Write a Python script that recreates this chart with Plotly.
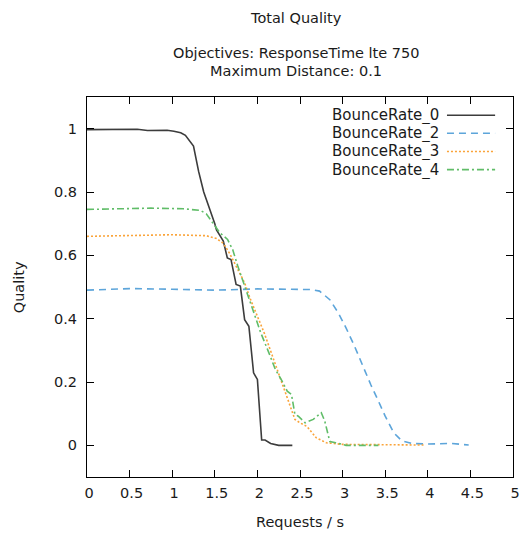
import plotly.graph_objects as go

# Measured quality vs. request rate for each bounce-rate setting
br0_x = [0, 0.3, 0.59, 0.71, 0.94, 1.02, 1.10, 1.155, 1.25, 1.31, 1.37, 1.50, 1.52, 1.60,
         1.647, 1.69, 1.75, 1.80, 1.85, 1.90, 1.955, 2.00, 2.05, 2.09, 2.155, 2.25, 2.41]
br0_y = [0.997, 0.997, 0.998, 0.994, 0.995, 0.992, 0.987, 0.979, 0.945, 0.865, 0.80, 0.70, 0.68, 0.645,
         0.592, 0.587, 0.508, 0.503, 0.397, 0.376, 0.229, 0.208, 0.017, 0.017, 0.006, 0.0, 0.0]

br2_x = [0, 0.5, 1.0, 1.31, 1.5, 2.0, 2.62, 2.73, 2.85, 2.95, 3.04, 3.14, 3.23, 3.33,
         3.42, 3.50, 3.60, 3.695, 3.81, 4.0, 4.27, 4.48]
br2_y = [0.490, 0.495, 0.493, 0.491, 0.490, 0.494, 0.492, 0.487, 0.46, 0.418, 0.371, 0.313, 0.255, 0.192,
         0.14, 0.092, 0.04, 0.014, 0.006, 0.004, 0.006, 0.001]

br3_x = [0, 0.5, 1.0, 1.40, 1.52, 1.60, 1.67, 1.75, 1.85, 1.92, 2.0, 2.08, 2.17, 2.23,
         2.31, 2.385, 2.44, 2.50, 2.58, 2.69, 2.81, 3.0, 3.5, 3.95]
br3_y = [0.66, 0.663, 0.665, 0.662, 0.653, 0.638, 0.608, 0.566, 0.513, 0.46, 0.408, 0.355, 0.287, 0.24,
         0.177, 0.124, 0.082, 0.071, 0.06, 0.024, 0.008, 0.003, 0.002, 0.001]

br4_x = [0, 0.75, 1.13, 1.33, 1.40, 1.48, 1.56, 1.65, 1.71, 1.77, 1.85, 1.92, 1.98, 2.04,
         2.135, 2.21, 2.29, 2.35, 2.40, 2.44, 2.48, 2.56, 2.655, 2.75, 2.79, 2.85, 2.92, 3.04, 3.42]
br4_y = [0.745, 0.749, 0.747, 0.742, 0.731, 0.702, 0.671, 0.65, 0.618, 0.566, 0.503, 0.45, 0.403, 0.355,
         0.292, 0.24, 0.203, 0.171, 0.161, 0.098, 0.092, 0.071, 0.082, 0.103, 0.077, 0.012, 0.008, 0.0, 0.0]

names = ["BounceRate_0", "BounceRate_2", "BounceRate_3", "BounceRate_4"]
colors = ["#3c3c3c", "#5da5da", "#faa43a", "#60bd68"]
dashes = ["solid", "7px,5px", "2px,2px", "7px,3px,2px,3px"]
xs = [br0_x, br2_x, br3_x, br4_x]
ys = [br0_y, br2_y, br3_y, br4_y]

x_ticks = [0, 0.5, 1, 1.5, 2, 2.5, 3, 3.5, 4, 4.5, 5]
x_labels = ["0", "0.5", "1", "1.5", "2", "2.5", "3", "3.5", "4", "4.5", "5"]
y_ticks = [0, 0.2, 0.4, 0.6, 0.8, 1]
y_labels = ["0", "0.2", "0.4", "0.6", "0.8", "1"]

FONT = "DejaVu Sans"
TXT = "#1a1a1a"
fig = go.Figure()
for name, x, y, c, d in zip(names, xs, ys, colors, dashes):
    fig.add_trace(go.Scatter(x=x, y=y, mode="lines", name=name, showlegend=False,
                             line=dict(color=c, width=1.6, dash=d)))

# Key: label text on the left, line sample on the right
leg_y = [0.9521, 0.9045, 0.8566, 0.8089]
annotations = []
shapes = []
for name, c, d, yy in zip(names, colors, dashes, leg_y):
    annotations.append(dict(text=name, xref="paper", yref="paper", x=0.83, y=yy,
                            xanchor="right", yanchor="middle", showarrow=False, height=18,
                            font=dict(family=FONT, size=15, color=TXT)))
    shapes.append(dict(type="line", xref="paper", yref="paper", x0=0.845, x1=0.958,
                       y0=yy, y1=yy, line=dict(color=c, width=1.6, dash=d)))

titles = [("Total Quality", 1.2092), ("Objectives: ResponseTime lte 750", 1.1150),
          ("Maximum Distance: 0.1", 1.0689)]
for t, yy in titles:
    annotations.append(dict(text=t, xref="paper", yref="paper", x=0.49, y=yy,
                            xanchor="center", yanchor="middle", showarrow=False,
                            font=dict(family=FONT, size=14.5, color=TXT)))

annotations.append(dict(text="Requests / s", xref="paper", yref="paper", x=0.5, y=-0.118,
                        xanchor="center", yanchor="middle", showarrow=False,
                        font=dict(family=FONT, size=14.5, color=TXT)))
annotations.append(dict(text="Quality", xref="paper", yref="paper", x=-0.159, y=0.5,
                        xanchor="center", yanchor="middle", showarrow=False, textangle=-90,
                        font=dict(family=FONT, size=14.5, color=TXT)))

axis_common = dict(showgrid=False, zeroline=False, showline=True, linecolor="black",
                   linewidth=1, mirror="ticks", ticks="inside", ticklen=7, tickwidth=1,
                   tickcolor="black", tickfont=dict(family=FONT, size=14.5, color=TXT))

fig.update_layout(
    width=529, height=534,
    margin=dict(l=87, r=9, t=97, b=57),
    paper_bgcolor="white", plot_bgcolor="white",
    xaxis=dict(range=[0, 5], tickvals=x_ticks, ticktext=x_labels,
               ticklabelshift=2, ticklabelstandoff=3, **axis_common),
    yaxis=dict(range=[-0.1, 1.1], tickvals=y_ticks, ticktext=y_labels,
               ticklabelstandoff=6, **axis_common),
    annotations=annotations,
    shapes=shapes,
)

fig.write_html("out.html", config={"responsive": False})
